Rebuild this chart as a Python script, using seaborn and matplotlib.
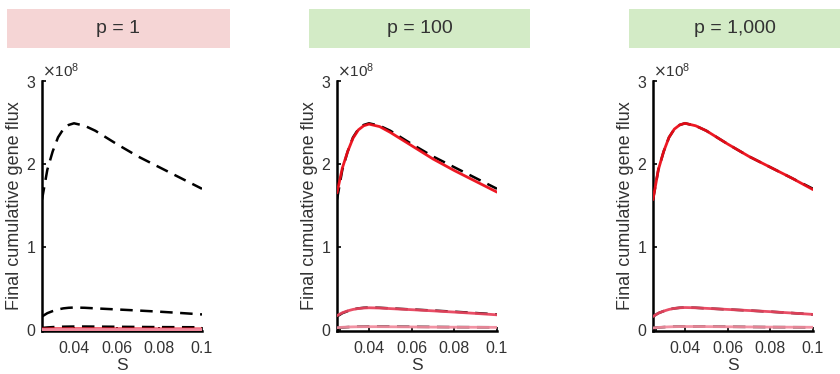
import matplotlib
matplotlib.use('Agg')
import matplotlib.pyplot as plt
from matplotlib.patches import Rectangle
from matplotlib.ticker import ScalarFormatter
import seaborn as sns

sns.set_style('ticks')
plt.rcParams['font.family'] = ['Liberation Sans', 'DejaVu Sans']

# selection coefficient grid
s = [0.025, 0.0275, 0.03, 0.0325, 0.035, 0.0375, 0.04, 0.045, 0.05, 0.06, 0.07, 0.08, 0.09, 0.1]

# theory (black dashed), units of 1e8
theory_hi = [1.57, 1.93, 2.15, 2.32, 2.42, 2.47, 2.49, 2.46, 2.40, 2.24, 2.09, 1.96, 1.83, 1.70]
theory_mid = [0.16, 0.20, 0.225, 0.245, 0.258, 0.265, 0.268, 0.265, 0.258, 0.245, 0.232, 0.218, 0.202, 0.185]
theory_lo = [0.022, 0.028, 0.032, 0.035, 0.037, 0.038, 0.039, 0.039, 0.038, 0.036, 0.034, 0.032, 0.031, 0.030]

# simulations (red), one triple per panel
sim_p1_hi = [0.010, 0.011, 0.012, 0.012, 0.012, 0.012, 0.012, 0.012, 0.012, 0.011, 0.011, 0.010, 0.010, 0.010]
sim_p1_mid = [0.005, 0.005, 0.006, 0.006, 0.006, 0.006, 0.006, 0.006, 0.006, 0.006, 0.005, 0.005, 0.005, 0.005]
sim_p1_lo = [0.001, 0.001, 0.002, 0.002, 0.002, 0.002, 0.002, 0.002, 0.002, 0.002, 0.002, 0.001, 0.001, 0.001]

sim_p100_hi = [1.65, 1.95, 2.15, 2.31, 2.41, 2.46, 2.48, 2.45, 2.38, 2.22, 2.06, 1.92, 1.79, 1.66]
sim_p100_mid = [0.17, 0.205, 0.228, 0.245, 0.256, 0.262, 0.265, 0.262, 0.255, 0.242, 0.228, 0.213, 0.197, 0.18]
sim_p100_lo = [0.025, 0.030, 0.033, 0.035, 0.036, 0.037, 0.037, 0.037, 0.036, 0.034, 0.032, 0.031, 0.030, 0.029]

sim_p1000_hi = [1.57, 1.93, 2.15, 2.32, 2.42, 2.47, 2.49, 2.46, 2.40, 2.24, 2.09, 1.96, 1.83, 1.69]
sim_p1000_mid = [0.16, 0.20, 0.225, 0.245, 0.258, 0.265, 0.268, 0.265, 0.258, 0.245, 0.232, 0.218, 0.202, 0.185]
sim_p1000_lo = [0.022, 0.028, 0.032, 0.035, 0.037, 0.038, 0.039, 0.039, 0.038, 0.036, 0.034, 0.032, 0.031, 0.030]

titles = ['p = 1', 'p = 100', 'p = 1,000']
title_colors = ['#f5d5d5', '#d3ebc6', '#d3ebc6']
sims = [
    (sim_p1_hi, sim_p1_mid, sim_p1_lo),
    (sim_p100_hi, sim_p100_mid, sim_p100_lo),
    (sim_p1000_hi, sim_p1000_mid, sim_p1000_lo),
]
red_colors = ['#ec0c18', '#e8445e', '#f28c9e']

fig = plt.figure(figsize=(8.4, 3.74), dpi=100)

ax_lefts = [42 / 840, 337 / 840, 653 / 840]
box_spans = [(7, 230), (309, 530), (629, 840)]
text_col = '#333333'

for i, left in enumerate(ax_lefts):
    ax = fig.add_axes([left, 43 / 374, 160 / 840, 250 / 374])
    scale = 1e8
    for th in (theory_hi, theory_mid, theory_lo):
        sns.lineplot(x=s, y=[v * scale for v in th], ax=ax, color='black',
                     linewidth=1.8, linestyle=(0, (5, 3)), zorder=2)
    for vals, col in zip(sims[i], red_colors):
        sns.lineplot(x=s, y=[v * scale for v in vals], ax=ax, color=col,
                     linewidth=2.0, alpha=0.95, zorder=3)

    ax.set_xlim(0.025, 0.1)
    ax.set_ylim(-0.015e8, 3e8)
    ax.set_xticks([0.04, 0.06, 0.08, 0.1])
    ax.set_xticklabels(['0.04', '0.06', '0.08', '0.1'])
    ax.set_yticks([0, 1e8, 2e8, 3e8])
    fmt = ScalarFormatter(useMathText=True)
    fmt.set_powerlimits((0, 0))
    ax.yaxis.set_major_formatter(fmt)
    ax.yaxis.get_offset_text().set_fontsize(11)
    ax.yaxis.get_offset_text().set_color(text_col)

    ax.tick_params(direction='in', length=3, width=1.2, labelsize=11.5,
                   colors='black', labelcolor=text_col, pad=4)
    ax.tick_params(axis='x', pad=7)
    for side in ('top', 'right'):
        ax.spines[side].set_visible(False)
    for side in ('left', 'bottom'):
        ax.spines[side].set_linewidth(1.8)
        ax.spines[side].set_color('black')

    ax.set_xlabel('S', fontsize=12.5, color=text_col, labelpad=2)
    ax.set_ylabel('Final cumulative gene flux', fontsize=13, color=text_col, labelpad=2)

    x0, x1 = box_spans[i]
    fig.patches.append(Rectangle((x0 / 840, 1 - 48 / 374), (x1 - x0) / 840, 39 / 374,
                                 transform=fig.transFigure, facecolor=title_colors[i],
                                 edgecolor='none', zorder=0))
    fig.text((x0 + x1) / 2 / 840, 1 - 28.5 / 374, titles[i], ha='center', va='center',
             fontsize=14, color=text_col)

plt.savefig('out.png', dpi=100)
plt.close()
